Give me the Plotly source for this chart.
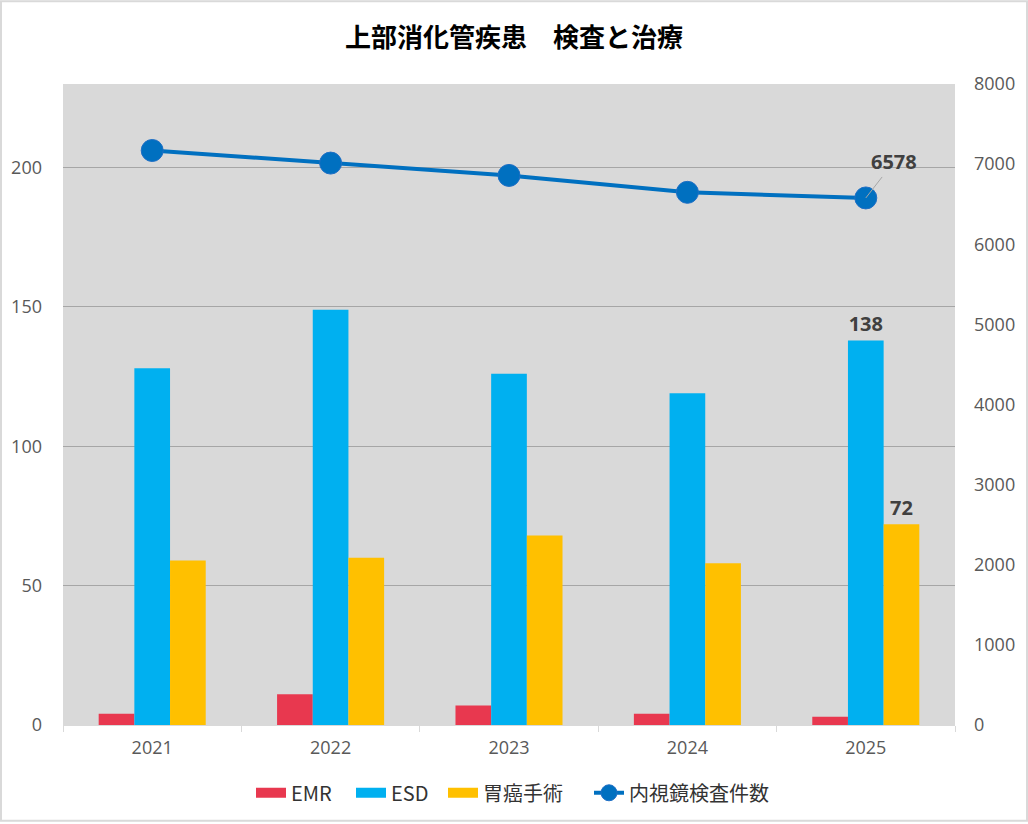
import plotly.graph_objects as go

years = ["2021", "2022", "2023", "2024", "2025"]
emr = [4, 11, 7, 4, 3]
esd = [128, 149, 126, 119, 138]
surgery = [59, 60, 68, 58, 72]
endoscopy = [7170, 7013, 6859, 6648, 6578]

bar_series = [("EMR", emr, "#E8384F"), ("ESD", esd, "#00B0F0"), ("胃癌手術", surgery, "#FFC000")]
labelled = {"ESD", "胃癌手術"}

W, H = 1028, 824
ml, mr, mt, mb = 63, 73, 84, 97
pw, ph = W - ml - mr, H - mt - mb

font_family = "Noto Sans CJK JP, Noto Sans, sans-serif"
num_font = "Open Sans, sans-serif"
tick_color = "#595959"
label_color = "#404040"
label_font = dict(size=20, color=label_color, family=num_font, weight="bold")

# pixel left edges of legend swatches in the original layout
legend_px = [256, 356, 448, 594]
legend_ids = ["legend", "legend2", "legend3", "legend4"]

fig = go.Figure()
for name, vals, color in bar_series:
    kw = {}
    if name in labelled:
        kw = dict(text=["" for _ in vals[:-1]] + [str(vals[-1])],
                  textposition="outside", cliponaxis=False, textfont=label_font)
    fig.add_trace(go.Bar(name=name, x=years, y=vals, marker_color=color,
                         marker_line_width=0, showlegend=False, **kw))

# legend-only entries with wide rectangular swatches (like the original)
for i, (name, vals, color) in enumerate(bar_series):
    fig.add_trace(go.Scatter(name=name, x=[None], y=[None], mode="lines",
                             line=dict(color=color, width=12), showlegend=True,
                             legend=legend_ids[i], hoverinfo="skip"))

fig.add_trace(go.Scatter(name="内視鏡検査件数", x=years, y=endoscopy, yaxis="y2",
                         mode="lines+markers", legend=legend_ids[3],
                         line=dict(color="#0070C0", width=4),
                         marker=dict(size=22, color="#0070C0", line=dict(width=1, color="#1F6FC5"))))

# category index of the last year (numeric strings would be read as indices)
fig.add_annotation(x=len(years) - 1, y=endoscopy[-1], yref="y2", text=str(endoscopy[-1]),
                   showarrow=True, arrowhead=0, arrowwidth=1, arrowcolor="#A6A6A6",
                   ax=28, ay=-36, standoff=0, font=label_font)

legend_common = dict(orientation="h", yanchor="middle", xanchor="left",
                     y=-(795 - 727) / ph, bgcolor="rgba(0,0,0,0)",
                     font=dict(size=20, color="#333333", family=font_family))
legends = {}
for lid, px in zip(legend_ids, legend_px):
    legends[lid] = dict(legend_common, x=(px - 5 - ml) / pw)

fig.update_layout(
    width=W, height=H,
    margin=dict(l=ml, r=mr, t=mt, b=mb),
    paper_bgcolor="white", plot_bgcolor="#D9D9D9",
    font=dict(family=font_family, color=tick_color, size=16),
    title=dict(text="<b>上部消化管疾患　検査と治療</b>", x=0.5, xanchor="center",
               y=1 - 38 / H, yanchor="middle",
               font=dict(size=26, color="black", family=font_family)),
    barmode="group", bargap=0.4, bargroupgap=0,
    xaxis=dict(type="category", showgrid=False, showline=True, linecolor="#D9D9D9",
               linewidth=1, ticks="outside", tickson="boundaries", ticklen=6,
               tickcolor="#D9D9D9", tickangle=0, ticklabelstandoff=6,
               tickfont=dict(size=18, color=tick_color, family=num_font)),
    yaxis=dict(range=[0, 230], tickvals=[0, 50, 100, 150, 200], showgrid=True,
               gridcolor="#A6A6A6", gridwidth=1, zeroline=False, showline=False,
               ticks="", ticklabelstandoff=20,
               tickfont=dict(size=18, color=tick_color, family=num_font)),
    yaxis2=dict(range=[0, 8000], dtick=1000, overlaying="y", side="right",
                showgrid=False, zeroline=False, showline=False, ticks="",
                ticklabelstandoff=18,
                tickfont=dict(size=18, color=tick_color, family=num_font)),
    showlegend=True,
    **legends,
)

fig.add_shape(type="rect", xref="paper", yref="paper",
              x0=-(ml - 1) / pw, x1=1 + (mr - 1) / pw,
              y0=-(mb - 1) / ph, y1=1 + (mt - 1) / ph,
              line=dict(color="#D9D9D9", width=2), layer="below")

fig.write_html("out.html")
